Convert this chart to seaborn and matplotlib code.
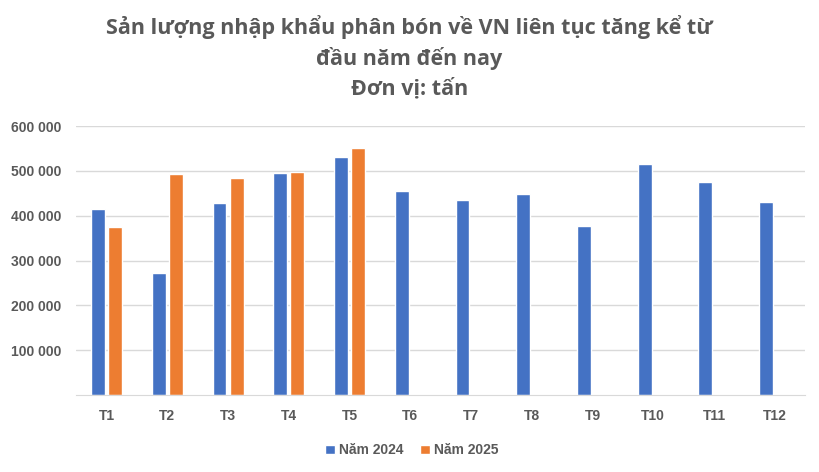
import numpy as np
import pandas as pd
import matplotlib.pyplot as plt
import seaborn as sns

# Monthly fertilizer imports (tonnes)
months = ["T1", "T2", "T3", "T4", "T5", "T6", "T7", "T8", "T9", "T10", "T11", "T12"]
y2024 = [415000, 272000, 428000, 495000, 531000, 455000, 435000, 448000, 377000, 515000, 475000, 430000]
y2025 = [375000, 493000, 484000, 497000, 551000, np.nan, np.nan, np.nan, np.nan, np.nan, np.nan, np.nan]
series = ["Năm 2024", "Năm 2025"]
yticks = [100000, 200000, 300000, 400000, 500000, 600000]

df = pd.DataFrame({
    "month": months * 2,
    "value": y2024 + y2025,
    "year": [series[0]] * 12 + [series[1]] * 12,
})

sns.set_style("white")
plt.rcParams["font.family"] = ["Liberation Sans", "DejaVu Sans"]
txt = "#595959"

fig = plt.figure(figsize=(8.19, 4.72), dpi=100)
ax = fig.add_axes([0.093, 0.163, 0.890, 0.570])

sns.barplot(data=df, x="month", y="value", hue="year", order=months,
            palette=["#4472C4", "#ED7D31"], width=0.56, gap=0.18,
            saturation=1, ax=ax, legend=True)

ax.set_ylim(0, 600000)
ax.set_xlim(-0.5, 11.5)
ax.set_yticks(yticks)
ax.set_yticklabels([f"{v:,}".replace(",", " ") for v in yticks])
ax.grid(axis="y", color="#D9D9D9", linewidth=1)
ax.set_axisbelow(True)
ax.set_xlabel("")
ax.set_ylabel("")
for s in ["top", "right", "left"]:
    ax.spines[s].set_visible(False)
ax.spines["bottom"].set_color("#D9D9D9")
ax.tick_params(axis="both", length=0, colors=txt, labelsize=10)
ax.tick_params(axis="x", pad=10)
ax.tick_params(axis="y", pad=11)
for lab in ax.get_xticklabels() + ax.get_yticklabels():
    lab.set_fontweight("bold")

ax.legend(loc="center", bbox_to_anchor=(0.503, 0.046), bbox_transform=fig.transFigure,
          ncol=2, frameon=False, handlelength=0.7, handleheight=0.7,
          handletextpad=0.3, columnspacing=1.2,
          prop={"weight": "bold", "size": 10}, labelcolor=txt)

fig.text(0.5, 0.968, "Sản lượng nhập khẩu phân bón về VN liên tục tăng kể từ\nđầu năm đến nay\nĐơn vị: tấn",
         ha="center", va="top", fontsize=15.5, fontweight="bold", color=txt,
         family="Open Sans", linespacing=1.45)

fig.savefig("out.png", dpi=100)
